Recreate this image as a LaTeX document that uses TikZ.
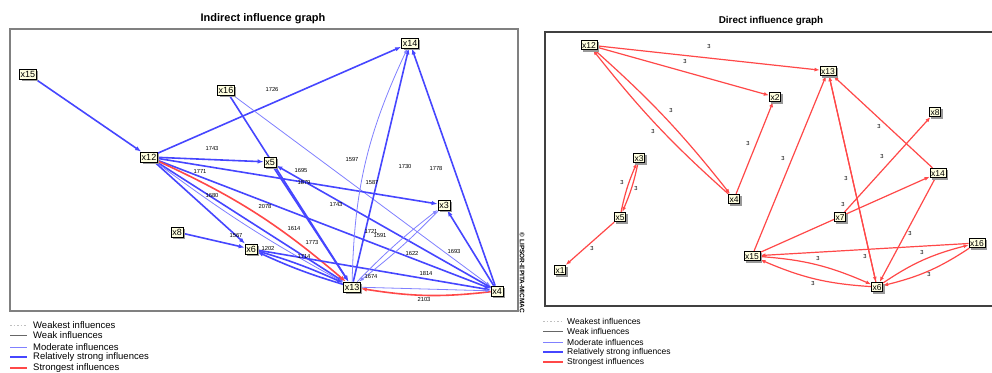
\documentclass[tikz,border=0pt]{standalone}
\usepackage{fontspec}
\setmainfont{Liberation Sans}
\usetikzlibrary{arrows.meta,shadows,bending}
\definecolor{nfill}{HTML}{FFFFE0}
\definecolor{strongblue}{HTML}{4646FF}
\definecolor{modblue}{HTML}{8080FF}
\definecolor{redc}{HTML}{FF4848}
\pgfdeclarelayer{bg}
\pgfdeclarelayer{edges}
\pgfsetlayers{bg,edges,main}
\begin{document}
\begin{tikzpicture}[x=1pt,y=-1pt,
  nd/.style={draw=black, line width=0.8pt, fill=nfill, inner xsep=1.2pt, inner ysep=0pt,
    minimum height=10pt, text height=6.5pt, text depth=0pt, font=\fontsize{9}{9}\selectfont,
    general shadow={fill=gray!80, shadow xshift=2pt, shadow yshift=-2pt}},
  ndr/.style={nd, minimum height=9.5pt, text height=6.2pt, font=\fontsize{8.5}{8.5}\selectfont},
  B/.style={draw=strongblue, line width=1.6pt, -{Latex[length=6pt,width=4.5pt]}},
  M/.style={draw=modblue, line width=0.8pt, -{Latex[length=5pt,width=3.5pt]}},
  R/.style={draw=redc, line width=1.6pt, -{Latex[length=6pt,width=4.5pt]}},
  RR/.style={draw=redc, line width=1.2pt, -{Latex[length=5pt,width=4pt]}},
  lb/.style={font=\fontsize{5.8}{6}\selectfont, inner sep=0pt},
  title/.style={font=\bfseries\fontsize{11}{11}\selectfont, inner sep=0pt},
  legl/.style={font=\fontsize{9.5}{9.5}\selectfont, anchor=west, inner sep=0pt},
  legr/.style={font=\fontsize{8.5}{8.5}\selectfont, anchor=west, inner sep=0pt}
]
\useasboundingbox (0,0) rectangle (992,372);
\begin{pgfonlayer}{bg}
\fill[white] (0,0) rectangle (992,372);
\end{pgfonlayer}

% ---------- frames and titles ----------
\draw[gray, line width=1.5pt] (10,29) rectangle (518,311);
\draw[black!75, line width=1.2pt] (545,32) rectangle (1000,306);
\node[title] (t1) at (263,19) {Indirect influence graph};
\node[title, font=\bfseries\fontsize{9.9}{9.9}\selectfont] (t2) at (771,21) {Direct influence graph};
\node[rotate=-90, font=\bfseries\fontsize{6.5}{6.5}\selectfont, inner sep=0pt] (copy) at (522,273) {© LIPSOR-EPITA-MICMAC};

% ---------- left: indirect graph nodes ----------
\node[nd] (a15) at (28,74) {x15};
\node[nd] (a16) at (226,90) {x16};
\node[nd] (a14) at (410,43) {x14};
\node[nd] (a12) at (149,157) {x12};
\node[nd] (a5) at (270,162) {x5};
\node[nd] (a3) at (444,205) {x3};
\node[nd] (a8) at (177,232) {x8};
\node[nd] (a6) at (251,249) {x6};
\node[nd] (a13) at (352,287) {x13};
\node[nd] (a4) at (497,291) {x4};

\begin{pgfonlayer}{edges}
\draw[B] (a15) -- (a12);
\draw[B] (a12) -- (a14);
\draw[B] (a16) -- (a13);
\draw[M] (a16) -- (a4);
\draw[B] (a12) -- (a5);
\draw[B] (a12) -- (a3);
\draw[B] (a12) -- (a4);
\draw[B] (a12) -- (a13);
\draw[M] (a12) to[bend right=4] (a13);
\draw[R] (a12) to[bend left=8] (a13);
\draw[B] (a12) -- (a6);
\draw[B] (a8) -- (a6);
\draw[B] (a6) to[bend left=4] (a13);
\draw[B] (a13) to[bend left=4] (a6);
\draw[B] (a6) -- (a4);
\draw[B] (a5) -- (a13);
\draw[B] (a4) -- (a5);
\draw[B] (a4) -- (a3);
\draw[B] (a4) -- (a14);
\draw[B] (a13) -- (a14);
\draw[M] (a13) to[bend left=12] (a14);
\draw[R] (a4) to[bend left=8] (a13);
\draw[M] (a13) -- (a4);
\draw[M] (a13) to[bend left=4] (a3);
\draw[M] (a3) to[bend left=4] (a13);
\end{pgfonlayer}

% left labels
\node[lb] (la1) at (272,90) {1726};
\node[lb] (la2) at (212,149) {1743};
\node[lb] (la3) at (352,160) {1597};
\node[lb] (la4) at (405,167) {1730};
\node[lb] (la5) at (436,169) {1778};
\node[lb] (la6) at (301,171) {1695};
\node[lb] (la7) at (304,183) {1879};
\node[lb] (la8) at (372,183) {1587};
\node[lb] (la9) at (200,172) {1771};
\node[lb] (la10) at (336,204) {1743};
\node[lb] (la11) at (265,207) {2078};
\node[lb] (la12) at (212,196) {1680};
\node[lb] (la13) at (294,228) {1614};
\node[lb] (la14) at (371,231) {1721};
\node[lb] (la15) at (380,235) {1591};
\node[lb] (la16) at (312,242) {1773};
\node[lb] (la17) at (236,235) {1567};
\node[lb] (la18) at (268,248) {1202};
\node[lb] (la19) at (304,257) {1714};
\node[lb] (la20) at (412,253) {1622};
\node[lb] (la21) at (454,251) {1693};
\node[lb] (la22) at (371,276) {1674};
\node[lb] (la23) at (426,273) {1814};
\node[lb] (la24) at (424,299) {2103};

% ---------- right: direct graph nodes ----------
\node[ndr] (b12) at (589,45) {x12};
\node[ndr] (b13) at (828,71) {x13};
\node[ndr] (b2) at (775,97) {x2};
\node[ndr] (b8) at (935,112) {x8};
\node[ndr] (b3) at (639,158) {x3};
\node[ndr] (b4) at (734,199) {x4};
\node[ndr] (b5) at (620,217) {x5};
\node[ndr] (b1) at (560,270) {x1};
\node[ndr] (b15) at (752,256) {x15};
\node[ndr] (b14) at (938,173) {x14};
\node[ndr] (b7) at (840,217) {x7};
\node[ndr] (b16) at (977,243) {x16};
\node[ndr] (b6) at (877,287) {x6};

\begin{pgfonlayer}{edges}
\draw[RR] (b12) -- (b13);
\draw[RR] (b12) -- (b2);
\draw[RR] (b12) to[bend left=5] (b4);
\draw[RR] (b4) to[bend left=5] (b12);
\draw[RR] (b4) -- (b2);
\draw[RR] (b15) -- (b13);
\draw[RR] (b6) -- (b13);
\draw[RR] (b13) -- (b6);
\draw[RR] (b14) -- (b13);
\draw[RR] (b7) -- (b8);
\draw[RR] (b15) -- (b14);
\draw[RR] (b14) -- (b6);
\draw[RR] (b16) -- (b15);
\draw[RR] (b15) to[bend left=10] (b6);
\draw[RR] (b6) to[bend left=10] (b15);
\draw[RR] (b16) to[bend left=10] (b6);
\draw[RR] (b6) to[bend left=10] (b16);
\draw[RR] (b5) to[bend left=6] (b3);
\draw[RR] (b3) to[bend left=6] (b5);
\draw[RR] (b5) -- (b1);
\end{pgfonlayer}

% right labels
\node[lb] (lb1) at (709,47) {3};
\node[lb] (lb2) at (685,62) {3};
\node[lb] (lb3) at (671,111) {3};
\node[lb] (lb4) at (653,132) {3};
\node[lb] (lb5) at (748,144) {3};
\node[lb] (lb6) at (783,159) {3};
\node[lb] (lb7) at (879,127) {3};
\node[lb] (lb8) at (882,157) {3};
\node[lb] (lb9) at (846,179) {3};
\node[lb] (lb10) at (843,204) {3};
\node[lb] (lb11) at (910,233) {3};
\node[lb] (lb12) at (922,252) {3};
\node[lb] (lb13) at (929,274) {3};
\node[lb] (lb14) at (865,256) {3};
\node[lb] (lb15) at (818,258) {3};
\node[lb] (lb16) at (813,283) {3};
\node[lb] (lb17) at (622,183) {3};
\node[lb] (lb18) at (636,189) {3};
\node[lb] (lb19) at (592,248) {3};

% ---------- legends ----------
\draw[gray!50, line width=0.6pt, dash pattern=on 1.5pt off 2pt] (10,325) -- (27,325);
\draw[black!60, line width=0.6pt] (10,335) -- (27,335);
\draw[modblue, line width=1pt] (10,347) -- (27,347);
\draw[strongblue, line width=1.6pt] (10,357) -- (27,357);
\draw[redc, line width=1.6pt] (10,368) -- (27,368);
\node[legl] (g1) at (33,325) {Weakest influences};
\node[legl] (g2) at (33,335) {Weak influences};
\node[legl] (g3) at (33,347) {Moderate influences};
\node[legl] (g4) at (33,357) {Relatively strong influences};
\node[legl] (g5) at (33,368) {Strongest influences};

\draw[gray!50, line width=0.6pt, dash pattern=on 1.5pt off 2pt] (543,321) -- (563,321);
\draw[black!60, line width=0.6pt] (543,331) -- (563,331);
\draw[modblue, line width=1pt] (543,342) -- (563,342);
\draw[strongblue, line width=1.6pt] (543,352) -- (563,352);
\draw[redc, line width=1.6pt] (543,362) -- (563,362);
\node[legr] (h1) at (567,321) {Weakest influences};
\node[legr] (h2) at (567,331) {Weak influences};
\node[legr] (h3) at (567,342) {Moderate influences};
\node[legr] (h4) at (567,352) {Relatively strong influences};
\node[legr] (h5) at (567,362) {Strongest influences};
\end{tikzpicture}
\end{document}
